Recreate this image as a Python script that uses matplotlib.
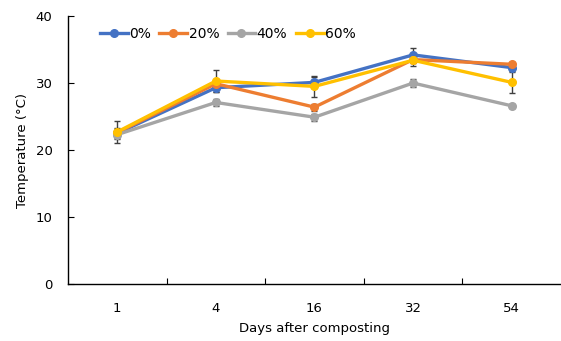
import matplotlib.pyplot as plt
import numpy as np

days = ['1', '4', '16', '32', '54']
labels = ['0%', '20%', '40%', '60%']
colors = ['#4472C4', '#ED7D31', '#A5A5A5', '#FFC000']

temp_0 = [22.5, 29.3, 30.1, 34.2, 32.3]
temp_20 = [22.6, 29.9, 26.4, 33.5, 32.8]
temp_40 = [22.3, 27.1, 24.9, 30.0, 26.6]
temp_60 = [22.7, 30.3, 29.5, 33.4, 30.1]

err_0 = [0.8, 0.6, 0.8, 1.0, 0.5]
err_20 = [0.5, 0.5, 0.5, 0.5, 0.3]
err_40 = [0.5, 0.5, 0.5, 0.6, 0.3]
err_60 = [1.7, 1.7, 1.6, 0.8, 1.6]

series = [temp_0, temp_20, temp_40, temp_60]
errors = [err_0, err_20, err_40, err_60]

plt.rcParams['font.family'] = 'DejaVu Sans'

fig = plt.figure(figsize=(5.61, 3.41), dpi=100)
ax = fig.add_axes([0.121, 0.167, 0.879, 0.786])

x = np.arange(len(days))
for vals, err, lab, col in zip(series, errors, labels, colors):
    ax.errorbar(x, vals, yerr=err, fmt='none', ecolor='#404040',
                elinewidth=1.0, capsize=2.5, capthick=1.0, zorder=2)
    ax.plot(x, vals, '-o', color=col, label=lab, linewidth=2.4,
            markersize=5.5, zorder=3)

ax.set_xlim(-0.5, len(days) - 0.5)
ax.set_ylim(0, 40)
ax.set_yticks([0, 10, 20, 30, 40])
ax.set_xticks(x)
ax.set_xticklabels(days)
ax.set_xticks(np.arange(0.5, len(days) - 0.5, 1), minor=True)
ax.tick_params(axis='x', which='major', length=0, pad=13, labelsize=9.5)
ax.tick_params(axis='x', which='minor', direction='in', length=4, width=0.8)
ax.tick_params(axis='y', direction='in', length=4, width=0.8, pad=11, labelsize=9.5)

for s in ['top', 'right']:
    ax.spines[s].set_visible(False)
for s in ['left', 'bottom']:
    ax.spines[s].set_linewidth(1.0)
    ax.spines[s].set_color('black')

ax.set_xlabel('Days after composting', fontsize=9.5, labelpad=5)
ax.set_ylabel('Temperature (°C)', fontsize=9.5, labelpad=5)

ax.legend(loc='upper left', ncol=4, frameon=False, fontsize=10,
          bbox_to_anchor=(0.04, 1.005), handlelength=2.0, handletextpad=0.1,
          columnspacing=0.6)

fig.savefig('out.png', dpi=100)
